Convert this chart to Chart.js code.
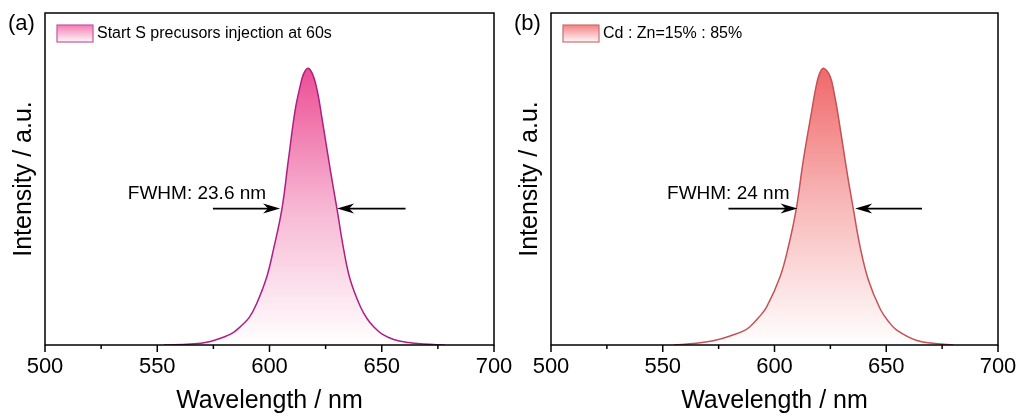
<!DOCTYPE html>
<html>
<head>
<meta charset="utf-8">
<script src="https://cdn.jsdelivr.net/npm/chart.js@4.4.1/dist/chart.umd.min.js"></script>
<style>
  body { margin: 0; background: #fff; }
  #wrap { position: relative; width: 1023px; height: 417px; overflow: hidden; }
  canvas { position: absolute; top: 0; }
  #panelA { left: 0; }
  #panelB { left: 506px; }
</style>
</head>
<body>
<div id="wrap">
  <canvas id="panelA" width="520" height="417"></canvas>
  <canvas id="panelB" width="517" height="417"></canvas>
</div>
<script>
// PL spectra (normalised intensity vs wavelength)
const wavelengthA = [553, 565, 572, 580, 584, 587, 591, 594.3, 598.8, 601.7, 605.5, 608.4, 611.4, 613.5, 615.2, 617.3,
  619.6, 621.5, 623.3, 627.1, 630.1, 633.1, 636, 640.5, 643.5, 646.4, 650, 655.3, 662, 668.6, 678];
const intensityA = [0, 0.004, 0.01, 0.03, 0.046, 0.066, 0.1, 0.15, 0.247, 0.343, 0.49, 0.668, 0.848, 0.93, 0.98, 1.0,
  0.97, 0.91, 0.824, 0.632, 0.49, 0.343, 0.235, 0.138, 0.095, 0.066, 0.04, 0.02, 0.009, 0.004, 0];

const wavelengthB = [555, 565, 574, 582, 586, 589, 593, 596.5, 602.5, 606.2, 609.7, 612.9, 616.7, 618.5, 620.1, 621.9,
  624.9, 626.7, 628.6, 632.3, 635.3, 638.3, 642, 647.3, 651, 654.7, 663.7, 672, 680];
const intensityB = [0, 0.006, 0.018, 0.038, 0.05, 0.066, 0.1, 0.138, 0.247, 0.355, 0.49, 0.668, 0.848, 0.93, 0.98, 1.0,
  0.97, 0.91, 0.824, 0.632, 0.49, 0.355, 0.235, 0.13, 0.085, 0.054, 0.016, 0.005, 0];

const xTicks = [500, 550, 600, 650, 700];
const FONT = "'Liberation Sans', Arial, sans-serif";

function toPoints(xs, ys) {
  return xs.map((x, i) => ({ x: x, y: ys[i] }));
}

function arrow(ctx, x0, y, x1) {
  // shaft plus barbed head pointing to x1
  const dir = Math.sign(x1 - x0);
  ctx.beginPath();
  ctx.moveTo(x0, y);
  ctx.lineTo(x1 - dir * 8, y);
  ctx.stroke();
  ctx.beginPath();
  ctx.moveTo(x1, y);
  ctx.lineTo(x1 - dir * 17, y - 5);
  ctx.lineTo(x1 - dir * 12, y);
  ctx.lineTo(x1 - dir * 17, y + 5);
  ctx.closePath();
  ctx.fill();
}

// frame, minor ticks, legend, FWHM arrows and panel tag
const decor = {
  id: 'decor',
  afterDraw(chart, args, opts) {
    const ctx = chart.ctx;
    const a = chart.chartArea;
    const xs = chart.scales.x, ys = chart.scales.y;
    ctx.save();
    ctx.strokeStyle = '#000';
    ctx.fillStyle = '#000';
    ctx.lineWidth = 1.5;
    ctx.strokeRect(a.left, a.top, a.right - a.left, a.bottom - a.top);

    for (let v = 500; v <= 700; v += 25) {
      const px = xs.getPixelForValue(v);
      const len = v % 50 === 0 ? 7 : 4;
      ctx.beginPath();
      ctx.moveTo(px, a.bottom);
      ctx.lineTo(px, a.bottom + len);
      ctx.stroke();
    }

    // FWHM annotation
    const f = opts.fwhm;
    const ay = ys.getPixelForValue(f.level);
    ctx.lineWidth = 1.6;
    arrow(ctx, xs.getPixelForValue(f.leftArrow[0]), ay, xs.getPixelForValue(f.leftArrow[1]));
    arrow(ctx, xs.getPixelForValue(f.rightArrow[1]), ay, xs.getPixelForValue(f.rightArrow[0]));
    ctx.font = '19px ' + FONT;
    ctx.textAlign = 'right';
    ctx.textBaseline = 'alphabetic';
    ctx.fillText(f.text, xs.getPixelForValue(f.textEnd), ys.getPixelForValue(f.textLevel));

    // legend entry
    const bx = a.left + 12, by = a.top + 12, bw = 36, bh = 17;
    const g = ctx.createLinearGradient(0, by, 0, by + bh);
    g.addColorStop(0, opts.legendTop);
    g.addColorStop(1, '#fff7fa');
    ctx.fillStyle = g;
    ctx.fillRect(bx, by, bw, bh);
    ctx.strokeStyle = opts.legendBorder;
    ctx.lineWidth = 1.2;
    ctx.strokeRect(bx, by, bw, bh);
    ctx.fillStyle = '#000';
    ctx.font = '16px ' + FONT;
    ctx.textAlign = 'left';
    ctx.textBaseline = 'middle';
    ctx.fillText(opts.label, bx + bw + 4, by + bh / 2 + 0.5);

    // panel tag
    ctx.font = '22px ' + FONT;
    ctx.textBaseline = 'alphabetic';
    ctx.fillText(opts.tag, 8, 30);
    ctx.restore();
  }
};

function makePanel(id, xs, ys, style) {
  return new Chart(document.getElementById(id), {
    type: 'line',
    data: {
      datasets: [{
        label: style.label,
        data: toPoints(xs, ys),
        borderColor: style.line,
        borderWidth: 1.5,
        pointRadius: 0,
        tension: 0.4,
        fill: 'origin',
        backgroundColor: (c) => {
          const chart = c.chart;
          if (!chart.chartArea) return style.fillTop;
          const y = chart.scales.y;
          const g = chart.ctx.createLinearGradient(0, y.getPixelForValue(1), 0, y.getPixelForValue(0));
          g.addColorStop(0, style.fillTop);
          g.addColorStop(0.5, style.fillMid);
          g.addColorStop(1, 'rgba(255,255,255,1)');
          return g;
        }
      }]
    },
    options: {
      responsive: false,
      animation: false,
      layout: { padding: { top: 13, right: style.padRight, left: 0, bottom: 0 } },
      plugins: {
        legend: { display: false },
        tooltip: { enabled: false },
        decor: {
          fwhm: style.fwhm,
          label: style.label,
          tag: style.tag,
          legendTop: style.legendTop,
          legendBorder: style.legendBorder
        }
      },
      scales: {
        x: {
          type: 'linear',
          min: 500,
          max: 700,
          afterBuildTicks: (s) => { s.ticks = xTicks.map(v => ({ value: v })); },
          afterFit: (s) => { s.height = 72; },
          grid: { display: false },
          border: { display: false },
          ticks: { color: '#000', padding: 1, font: { family: FONT, size: 22 }, maxRotation: 0 },
          title: {
            display: true,
            text: 'Wavelength / nm',
            color: '#000',
            font: { family: FONT, size: 25 },
            padding: { top: 0, bottom: 1 }
          }
        },
        y: {
          min: 0,
          max: 1.2,
          afterFit: (s) => { s.width = 45; },
          grid: { display: false },
          border: { display: false },
          ticks: { display: false },
          title: {
            display: true,
            text: 'Intensity / a.u.',
            color: '#000',
            font: { family: FONT, size: 25 },
            padding: { top: 9, bottom: 0 }
          }
        }
      }
    },
    plugins: [decor]
  });
}

makePanel('panelA', wavelengthA, intensityA, {
  label: 'Start S precusors injection at 60s',
  tag: '(a)',
  line: 'rgb(172, 32, 132)',
  fillTop: 'rgb(236, 78, 148)',
  fillMid: 'rgb(247, 182, 211)',
  legendTop: 'rgb(244, 125, 178)',
  legendBorder: 'rgb(196, 88, 160)',
  padRight: 26,
  fwhm: { text: 'FWHM: 23.6 nm', textEnd: 598.5, textLevel: 0.527, level: 0.493,
          leftArrow: [574.8, 604.7], rightArrow: [630.1, 660.6] }
});

makePanel('panelB', wavelengthB, intensityB, {
  label: 'Cd : Zn=15% : 85%',
  tag: '(b)',
  line: 'rgb(196, 82, 86)',
  fillTop: 'rgb(240, 104, 106)',
  fillMid: 'rgb(248, 186, 187)',
  legendTop: 'rgb(244, 130, 132)',
  legendBorder: 'rgb(200, 112, 112)',
  padRight: 25,
  fwhm: { text: 'FWHM: 24 nm', textEnd: 606.7, textLevel: 0.527, level: 0.493,
          leftArrow: [579.4, 610.3], rightArrow: [636.1, 666] }
});
</script>
</body>
</html>
